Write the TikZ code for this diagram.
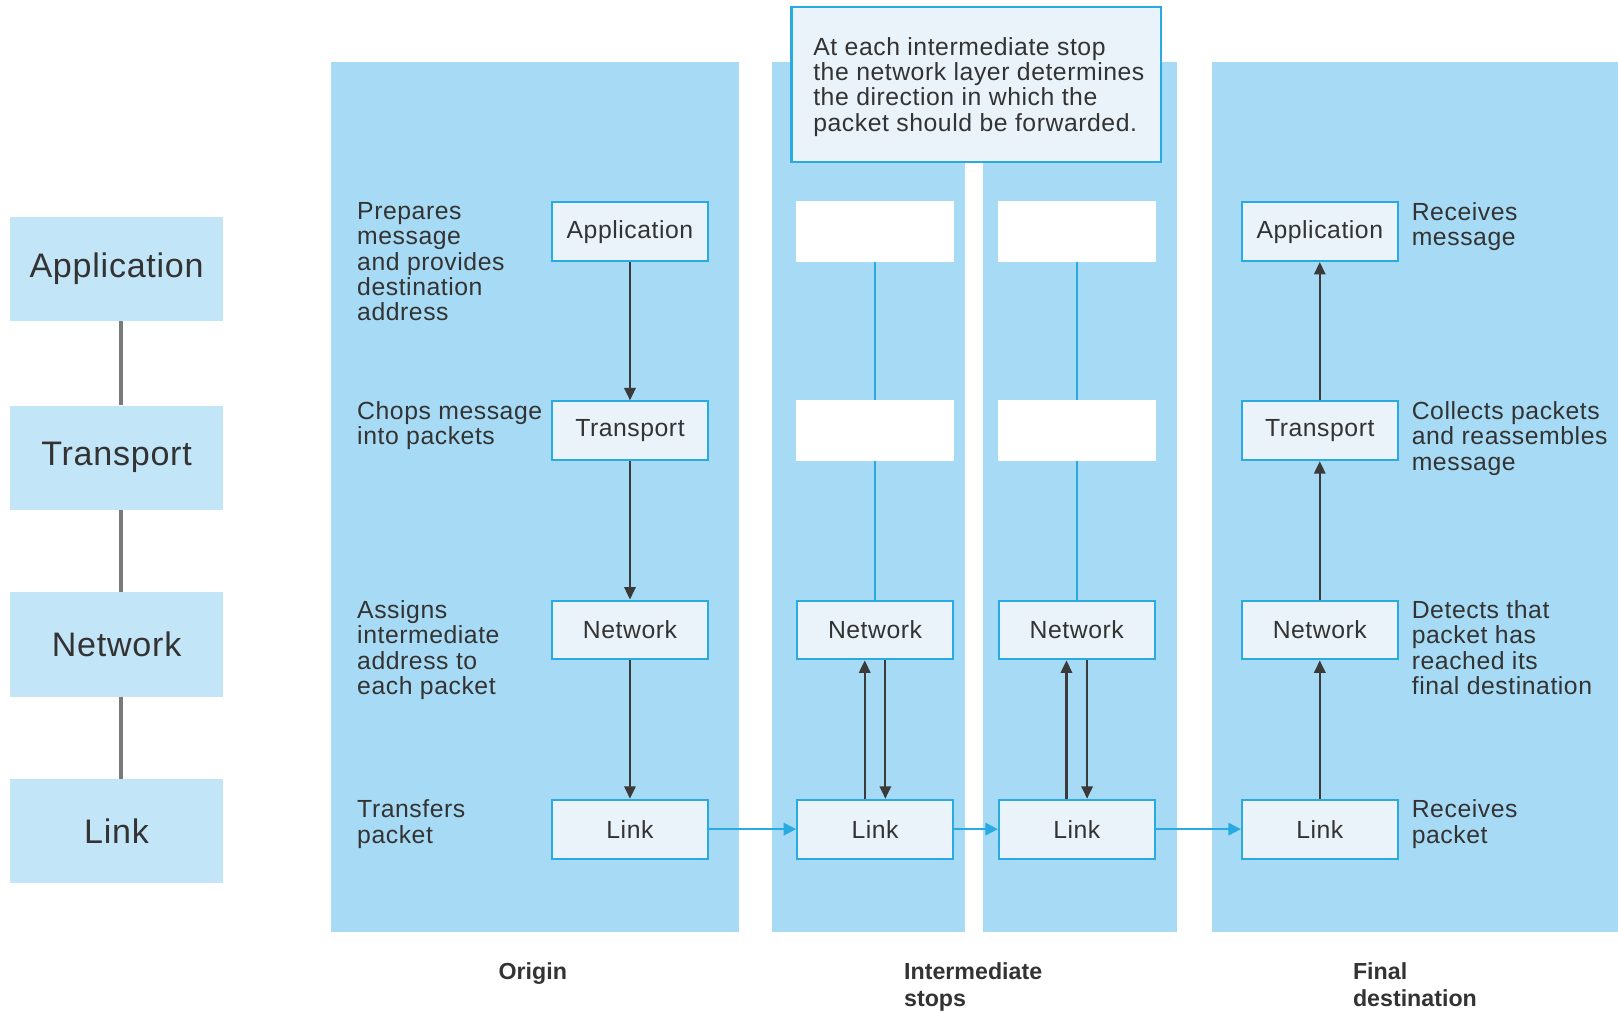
\documentclass[tikz,border=0pt]{standalone}
\usepackage{fontspec}
\setmainfont{Liberation Sans}
\newfontfamily\spaced[LetterSpace=2.2]{Liberation Sans}
\usetikzlibrary{arrows.meta}
\definecolor{panel}{HTML}{A7DBF5}
\definecolor{stackfill}{HTML}{C3E5F8}
\definecolor{nodefill}{HTML}{EAF3FA}
\definecolor{lineblue}{HTML}{29ABE2}
\definecolor{txt}{HTML}{333333}
\definecolor{arrowgrey}{HTML}{3A3A3A}
\definecolor{stackline}{HTML}{7A7A7A}
\newcommand\bodyfont{\spaced\fontsize{24}{24.5}\selectfont}
\tikzset{
  layerbox/.style={draw=lineblue, line width=2pt, fill=nodefill, minimum width=151pt, minimum height=57pt, inner sep=0pt, font=\bodyfont, text=txt},
  blankbox/.style={fill=white, minimum width=153pt, minimum height=59pt, inner sep=0pt},
  stackbox/.style={fill=stackfill, minimum width=206pt, minimum height=101pt, inner sep=0pt, font=\spaced\fontsize{33}{36}\selectfont, text=txt},
  note/.style={anchor=north west, align=left, inner sep=0pt, font=\bodyfont, text=txt},
  caption/.style={anchor=north west, align=left, inner sep=0pt, font=\fontsize{22.5}{26}\selectfont\bfseries, text=txt},
  darrow/.style={draw=arrowgrey, line width=2pt, -{Triangle[length=12pt,width=11pt]}},
  barrow/.style={draw=lineblue, line width=2pt, -{Triangle[length=12pt,width=12pt]}},
  bline/.style={draw=lineblue, line width=2pt},
  sline/.style={draw=stackline, line width=4pt},
}
\begin{document}
\begin{tikzpicture}[x=1pt,y=-1pt]
\useasboundingbox (0,0) rectangle (1568,978.8);
% panels
\fill[panel] (321,60) rectangle (716,903);
\fill[panel] (748,60) rectangle (935,903);
\fill[panel] (953,60) rectangle (1141,903);
\fill[panel] (1175,60) rectangle (1568,903);
% callout
\node[draw=lineblue, line width=2pt, fill=nodefill, minimum width=358pt, minimum height=150pt, inner sep=0pt] (callout) at (946,82) {};
\node[note] (callouttext) at (788,36) {At each intermediate stop\\the network layer determines\\the direction in which the\\packet should be forwarded.};
% left stack
\node[stackbox] (sapp) at (113,260.5) {Application};
\node[stackbox] (stra) at (113,443.5) {Transport};
\node[stackbox] (snet) at (113,624.5) {Network};
\node[stackbox] (slink) at (113,805.5) {Link};
\draw[sline] ([xshift=4pt]sapp.south) -- ([xshift=4pt]stra.north);
\draw[sline] ([xshift=4pt]stra.south) -- ([xshift=4pt]snet.north);
\draw[sline] ([xshift=4pt]snet.south) -- ([xshift=4pt]slink.north);
% origin
\node[layerbox] (oapp) at (610.5,224.5) {Application};
\node[layerbox] (otra) at (610.5,417.5) {Transport};
\node[layerbox] (onet) at (610.5,610.5) {Network};
\node[layerbox] (olink) at (610.5,803.5) {Link};
\draw[darrow] (oapp) -- (otra);
\draw[darrow] (otra) -- (onet);
\draw[darrow] (onet) -- (olink);
% intermediate 1
\node[blankbox] (iapp1) at (848,224.5) {};
\node[blankbox] (itra1) at (848,417.5) {};
\node[layerbox] (inet1) at (848,610.5) {Network};
\node[layerbox] (ilink1) at (848,803.5) {Link};
\draw[bline] (iapp1) -- (itra1);
\draw[bline] (itra1) -- (inet1);
\draw[darrow] ([xshift=-10pt]ilink1.north) -- ([xshift=-10pt]inet1.south);
\draw[darrow] ([xshift=10pt]inet1.south) -- ([xshift=10pt]ilink1.north);
% intermediate 2
\node[blankbox] (iapp2) at (1043.5,224.5) {};
\node[blankbox] (itra2) at (1043.5,417.5) {};
\node[layerbox] (inet2) at (1043.5,610.5) {Network};
\node[layerbox] (ilink2) at (1043.5,803.5) {Link};
\draw[bline] (iapp2) -- (itra2);
\draw[bline] (itra2) -- (inet2);
\draw[darrow] ([xshift=-10pt]ilink2.north) -- ([xshift=-10pt]inet2.south);
\draw[darrow] ([xshift=10pt]inet2.south) -- ([xshift=10pt]ilink2.north);
% final
\node[layerbox] (fapp) at (1279,224.5) {Application};
\node[layerbox] (ftra) at (1279,417.5) {Transport};
\node[layerbox] (fnet) at (1279,610.5) {Network};
\node[layerbox] (flink) at (1279,803.5) {Link};
\draw[darrow] (flink) -- (fnet);
\draw[darrow] (fnet) -- (ftra);
\draw[darrow] (ftra) -- (fapp);
% link arrows
\draw[barrow] (olink) -- (ilink1);
\draw[barrow] (ilink1) -- (ilink2);
\draw[barrow] (ilink2) -- (flink);
% origin notes
\node[note] (n1) at (346,196) {Prepares\\message\\and provides\\destination\\address};
\node[note] (n2) at (346,389) {Chops message\\into packets};
\node[note] (n3) at (346,582) {Assigns\\intermediate\\address to\\each packet};
\node[note] (n4) at (346,775) {Transfers\\packet};
% final notes
\node[note] (m1) at (1368,196) {Receives\\message};
\node[note] (m2) at (1368,389) {Collects packets\\and reassembles\\message};
\node[note] (m3) at (1368,582) {Detects that\\packet has\\reached its\\final destination};
\node[note] (m4) at (1368,775) {Receives\\packet};
% captions
\node[caption] (corigin) at (483,933) {Origin};
\node[caption] (cinter) at (876,933) {Intermediate\\stops};
\node[caption] (cfinal) at (1311,933) {Final\\destination};
\end{tikzpicture}
\end{document}
